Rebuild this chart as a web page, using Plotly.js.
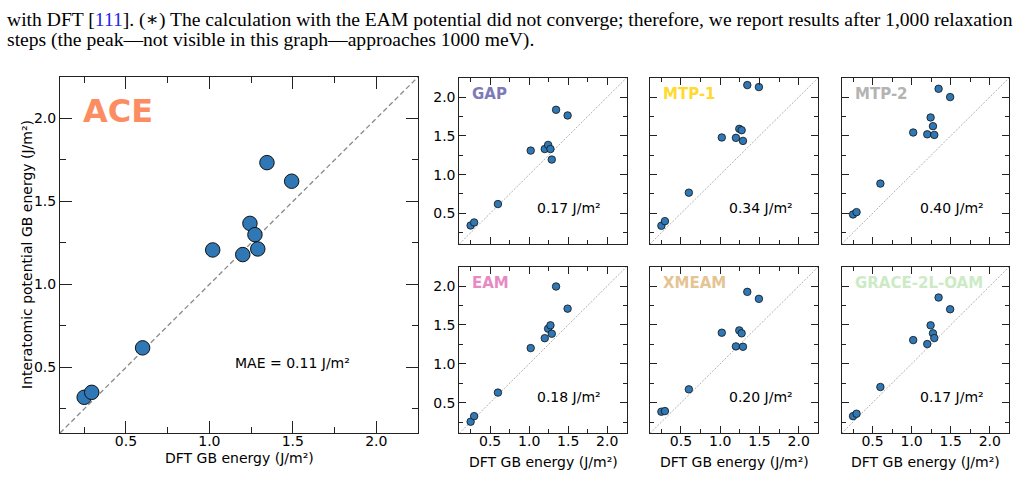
<!DOCTYPE html>
<html>
<head>
<meta charset="utf-8">
<script src="https://cdn.plot.ly/plotly-3.0.1.min.js"></script>
<style>
html,body{margin:0;padding:0;background:#fff;}
#chart{width:1027px;height:496px;}
</style>
</head>
<body>
<div id="chart"></div>
<script>
// ---- data ----
const dftEnergy = [0.25, 0.295, 0.60, 1.02, 1.20, 1.243, 1.273, 1.29, 1.345, 1.493];
const aceEnergy   = [0.32, 0.35, 0.618, 1.208, 1.18, 1.368, 1.30, 1.214, 1.734, 1.622];
const gapEnergy   = [0.344, 0.383, 0.62, 1.31, 1.33, 1.383, 1.33, 1.194, 1.836, 1.763];
const mtp1Energy  = [0.34, 0.40, 0.767, 1.479, 1.474, 1.59, 1.573, 1.435, 2.155, 2.129];
const mtp2Energy  = [0.486, 0.516, 0.884, 1.543, 1.52, 1.737, 1.625, 1.512, 2.107, 2.0];
const eamEnergy   = [0.254, 0.326, 0.629, 1.202, 1.33, 1.452, 1.495, 1.387, 1.995, 1.71];
const xmeamEnergy = [0.383, 0.391, 0.671, 1.40, 1.224, 1.43, 1.392, 1.219, 1.926, 1.836];
const graceEnergy = [0.326, 0.357, 0.701, 1.305, 1.254, 1.495, 1.392, 1.331, 1.853, 1.702];

const panelNames = ["GAP", "MTP-1", "MTP-2", "EAM", "XMEAM", "GRACE-2L-OAM"];
const panelColors = ["#7d7ab8", "#ffd92f", "#b3b3b3", "#e78ac3", "#e5c494", "#ccebc5"];
const panelMAE = ["0.17 J/m²", "0.34 J/m²", "0.40 J/m²", "0.18 J/m²", "0.20 J/m²", "0.17 J/m²"];
const panelData = [gapEnergy, mtp1Energy, mtp2Energy, eamEnergy, xmeamEnergy, graceEnergy];
const tickVals = [0.5, 1.0, 1.5, 2.0];
const tickText = ["0.5", "1.0", "1.5", "2.0"];
const axisRange = [0.105, 2.25];

// ---- layout geometry (pixels) ----
const W = 1027, H = 496;
const fx = p => p / W;
const fy = p => 1 - p / H;
const mainBox = {x0: 60, x1: 418, y0: 77, y1: 433};
const colX = [[459.3, 626.7], [650, 818.3], [841.7, 1009.3]];
const rowY = [[77.7, 244], [266.7, 433.3]];
const markerBlue = "#2f78b5";
const FONT = "DejaVu Sans, sans-serif";

function axisBase(big) {
  return {
    range: axisRange.slice(),
    tickvals: tickVals, ticktext: tickText,
    ticks: "inside", ticklen: big ? 12 : 7, tickwidth: 1, tickcolor: "#222",
    minor: {dtick: 0.25, tick0: 0, ticks: "inside", ticklen: big ? 6 : 4, tickwidth: 1, tickcolor: "#222"},
    showline: true, linecolor: "#222", linewidth: 1, mirror: "allticks",
    showgrid: false, zeroline: false,
    tickfont: {family: FONT, size: 14, color: "#000"},
    fixedrange: true
  };
}

const traces = [];
const layout = {
  width: W, height: H,
  margin: {l: 0, r: 0, t: 0, b: 0},
  paper_bgcolor: "#fff", plot_bgcolor: "#fff",
  showlegend: false,
  font: {family: FONT, size: 14, color: "#000"},
  annotations: [], shapes: []
};

// main panel
traces.push({x: dftEnergy, y: aceEnergy, type: "scatter", mode: "markers", xaxis: "x", yaxis: "y",
  marker: {size: 14.5, color: markerBlue, line: {color: "#111", width: 1}}, cliponaxis: false});
layout.xaxis = Object.assign(axisBase(true), {domain: [fx(mainBox.x0), fx(mainBox.x1)], anchor: "y", ticklabelstandoff: -5});
layout.yaxis = Object.assign(axisBase(true), {domain: [fy(mainBox.y1), fy(mainBox.y0)], anchor: "x"});
layout.annotations.push({xref: "paper", yref: "paper", x: fx((mainBox.x0 + mainBox.x1) / 2), y: fy(458),
  xanchor: "center", yanchor: "middle", showarrow: false, text: "DFT GB energy (J/m²)",
  font: {family: FONT, size: 14, color: "#000"}});
layout.annotations.push({xref: "paper", yref: "paper", x: fx(27), y: fy((mainBox.y0 + mainBox.y1) / 2),
  xanchor: "center", yanchor: "middle", textangle: -90, showarrow: false,
  text: "Interatomic potential GB energy (J/m²)", font: {family: FONT, size: 14, color: "#000"}});
layout.shapes.push({type: "line", xref: "x", yref: "y", x0: axisRange[0], y0: axisRange[0], x1: axisRange[1], y1: axisRange[1],
  line: {color: "#8a8a8a", width: 1.3, dash: "5px,3px"}, layer: "below"});
layout.annotations.push({xref: "x domain", yref: "y domain", x: 0.058, y: 0.905, xanchor: "left", yanchor: "middle",
  text: "<b>ACE</b>", showarrow: false, font: {family: FONT, size: 32, color: "#fc8d62"}});
layout.annotations.push({xref: "x domain", yref: "y domain", x: 0.484, y: 0.196, xanchor: "left", yanchor: "middle",
  text: "MAE = 0.11 J/m²", showarrow: false, font: {family: FONT, size: 14, color: "#000"}});

// small panels
for (let i = 0; i < 6; i++) {
  const r = Math.floor(i / 3), c = i % 3;
  const n = i + 2;
  const xa = "x" + n, ya = "y" + n;
  traces.push({x: dftEnergy, y: panelData[i], type: "scatter", mode: "markers", xaxis: xa, yaxis: ya,
    marker: {size: 7.5, color: markerBlue, line: {color: "#111", width: 0.8}}, cliponaxis: false});
  const xax = Object.assign(axisBase(false), {domain: [fx(colX[c][0]), fx(colX[c][1])], anchor: ya,
    showticklabels: r === 1, ticklabelstandoff: -5});
  const yax = Object.assign(axisBase(false), {domain: [fy(rowY[r][1]), fy(rowY[r][0])], anchor: xa,
    showticklabels: c === 0});
  layout["xaxis" + n] = xax;
  layout["yaxis" + n] = yax;
  if (r === 1) {
    layout.annotations.push({xref: "paper", yref: "paper", x: fx((colX[c][0] + colX[c][1]) / 2), y: fy(462),
      xanchor: "center", yanchor: "middle", showarrow: false, text: "DFT GB energy (J/m²)",
      font: {family: FONT, size: 14, color: "#000"}});
  }
  layout.shapes.push({type: "line", xref: xa, yref: ya, x0: axisRange[0], y0: axisRange[0], x1: axisRange[1], y1: axisRange[1],
    line: {color: "#9a9a9a", width: 0.8, dash: "2px,1.5px"}, layer: "below"});
  layout.annotations.push({xref: xa + " domain", yref: ya + " domain", x: 0.065, y: 0.9, xanchor: "left", yanchor: "middle",
    text: "<b>" + panelNames[i] + "</b>", showarrow: false, font: {family: FONT, size: 15, color: panelColors[i]}});
  layout.annotations.push({xref: xa + " domain", yref: ya + " domain", x: 0.455, y: 0.215, xanchor: "left", yanchor: "middle",
    text: panelMAE[i], showarrow: false, font: {family: FONT, size: 14, color: "#000"}});
}

// caption text above the figure
const SERIF = "Liberation Serif, DejaVu Serif, serif";
layout.annotations.push({xref: "paper", yref: "paper", x: fx(5), y: fy(20), xanchor: "left", yanchor: "middle", showarrow: false,
  text: "with DFT [<span style='color:#2222ee'>111</span>]. (∗) The calculation with the EAM potential did not converge; therefore, we report results after 1,000 relaxation",
  font: {family: SERIF, size: 19.6, color: "#000"}});
layout.annotations.push({xref: "paper", yref: "paper", x: fx(5), y: fy(40), xanchor: "left", yanchor: "middle", showarrow: false,
  text: "steps (the peak—not visible in this graph—approaches 1000 meV).",
  font: {family: SERIF, size: 19.6, color: "#000"}});

Plotly.newPlot("chart", traces, layout, {displayModeBar: false, staticPlot: true});
</script>
</body>
</html>
